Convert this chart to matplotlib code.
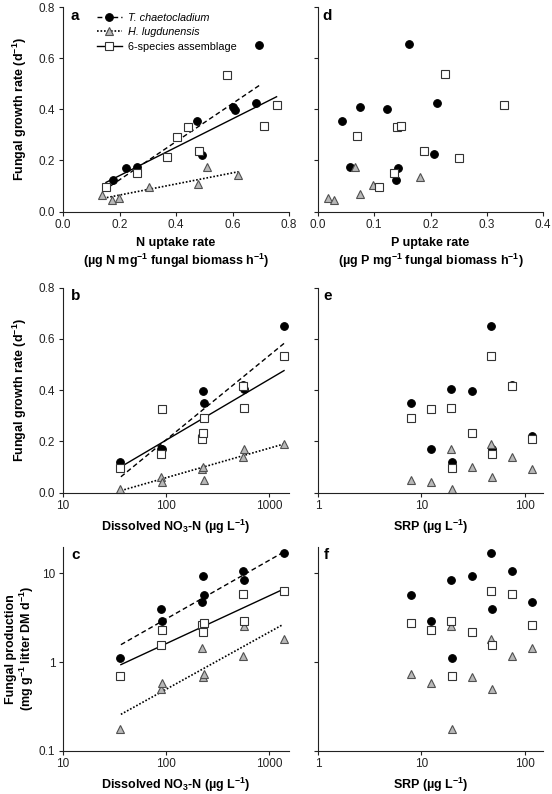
import matplotlib
matplotlib.use("Agg")
import matplotlib.pyplot as plt
import numpy as np
from matplotlib.legend_handler import HandlerLine2D
from matplotlib.lines import Line2D
from matplotlib.ticker import FixedLocator, FuncFormatter, NullLocator

plt.rcParams["font.family"] = ["Liberation Sans", "DejaVu Sans"]
plt.rcParams["mathtext.fontset"] = "custom"
plt.rcParams["mathtext.rm"] = "Liberation Sans:bold"
plt.rcParams["mathtext.it"] = "Liberation Sans:bold:italic"
plt.rcParams["mathtext.bf"] = "Liberation Sans:bold"
plt.rcParams["mathtext.default"] = "rm"

# --- panel a: N uptake rate vs growth rate
a_tc_x = [0.176, 0.223, 0.262, 0.473, 0.492, 0.601, 0.608, 0.683, 0.695]
a_tc_y = [0.123, 0.172, 0.175, 0.354, 0.223, 0.409, 0.399, 0.424, 0.654]
a_hl_x = [0.137, 0.172, 0.199, 0.304, 0.477, 0.511, 0.621]
a_hl_y = [0.065, 0.045, 0.052, 0.097, 0.107, 0.176, 0.143]
a_as_x = [0.152, 0.261, 0.369, 0.405, 0.442, 0.482, 0.580, 0.711, 0.756]
a_as_y = [0.097, 0.150, 0.212, 0.293, 0.330, 0.237, 0.535, 0.335, 0.418]
# regression lines (end points)
a_tc_fit_x = [0.169, 0.697]
a_tc_fit_y = [0.101, 0.496]
a_hl_fit_x = [0.143, 0.621]
a_hl_fit_y = [0.052, 0.156]
a_as_fit_x = [0.152, 0.756]
a_as_fit_y = [0.114, 0.450]

# --- panel d: P uptake rate vs growth rate
d_tc_x = [0.162, 0.212, 0.074, 0.123, 0.043, 0.206, 0.057, 0.142, 0.139]
d_tc_y = [0.656, 0.427, 0.411, 0.401, 0.355, 0.224, 0.173, 0.172, 0.124]
d_hl_x = [0.017, 0.028, 0.066, 0.075, 0.098, 0.182]
d_hl_y = [0.054, 0.045, 0.176, 0.067, 0.104, 0.136]
d_as_x = [0.225, 0.331, 0.141, 0.148, 0.070, 0.189, 0.251, 0.135, 0.108]
d_as_y = [0.538, 0.418, 0.330, 0.335, 0.296, 0.237, 0.211, 0.152, 0.097]

# --- panels b, c, e, f: nine streams
no3 = [36, 90, 91, 222, 227, 233, 552, 567, 1387]
srp = [19.6, 48.7, 12.4, 118, 30.8, 7.9, 74.8, 19.3, 46.6]
tc_growth = [0.121, 0.170, 0.172, 0.221, 0.396, 0.351, 0.420, 0.405, 0.650]
hl_growth = [0.013, 0.062, 0.043, 0.093, 0.101, 0.050, 0.140, 0.172, 0.190]
as_growth = [0.095, 0.150, 0.326, 0.208, 0.234, 0.291, 0.415, 0.332, 0.531]
tc_prod = [1.11, 4.0, 2.94, 4.72, 9.25, 5.71, 10.7, 8.45, 16.9]
hl_prod = [0.175, 0.50, 0.586, 1.45, 0.68, 0.74, 1.16, 2.58, 1.82]
as_prod = [0.69, 1.55, 2.29, 2.63, 2.21, 2.74, 5.87, 2.94, 6.35]

b_fit_x = [36.4, 1387]
b_tc_fit_y = [0.062, 0.582]
b_hl_fit_y = [0.008, 0.190]
b_as_fit_y = [0.101, 0.476]
c_fit_x = [36.4, 1387]
c_tc_fit_y = [1.57, 17.5]
c_hl_fit_x = [36.4, 1340]
c_hl_fit_y = [0.257, 2.63]
c_as_fit_y = [0.935, 6.68]

TC = dict(ls="none", marker="o", ms=5.5, mfc="black", mec="black", mew=0.8, clip_on=False)
HL = dict(ls="none", marker="^", ms=5.8, mfc="#b8b8b8", mec="#505050", mew=0.8, clip_on=False)
AS = dict(ls="none", marker="s", ms=5.8, mfc="white", mec="#333333", mew=0.8, clip_on=False)
DASH = dict(color="black", lw=1.0, ls=(0, (3.5, 2.2)))
DOT = dict(color="black", lw=1.2, ls=(0, (1, 1.1)))
SOLID = dict(color="black", lw=1.0, ls="-")

W, H = 552, 794
fig = plt.figure(figsize=(W / 100, H / 100), dpi=100)


def px_axes(left, top, right, bottom):
    return fig.add_axes([left / W, 1 - bottom / H, (right - left) / W, (bottom - top) / H])


def style(ax, letter, lx):
    for s in ("top", "right"):
        ax.spines[s].set_visible(False)
    for s in ("left", "bottom"):
        ax.spines[s].set_linewidth(0.8)
        ax.spines[s].set_color("#222222")
    ax.tick_params(direction="out", length=3, width=0.8, pad=2.5, labelsize=8.5,
                   color="#222222", labelcolor="#222222")
    ax.text(lx, 0.995, letter, transform=ax.transAxes, fontsize=11, fontweight="bold",
            va="top", ha="left")


def log_fmt(ax, axis, ticks):
    a = ax.xaxis if axis == "x" else ax.yaxis
    a.set_major_locator(FixedLocator(ticks))
    a.set_minor_locator(NullLocator())
    a.set_major_formatter(FuncFormatter(lambda v, p: f"{v:g}"))


def scatter3(ax, x_tc, y_tc, x_hl, y_hl, x_as, y_as):
    ax.plot(x_tc, y_tc, **TC)
    ax.plot(x_hl, y_hl, **HL)
    ax.plot(x_as, y_as, **AS)


LAB = dict(fontsize=9, fontweight="bold")
growth_label = "Fungal growth rate (d$^{-1}$)"
no3_label = "Dissolved NO$_3$-N (µg L$^{-1}$)"
srp_label = "SRP (µg L$^{-1}$)"

# panel a
ax = px_axes(63, 7.5, 289, 211.5)
ax.plot(a_tc_fit_x, a_tc_fit_y, **DASH)
ax.plot(a_hl_fit_x, a_hl_fit_y, **DOT)
ax.plot(a_as_fit_x, a_as_fit_y, **SOLID)
scatter3(ax, a_tc_x, a_tc_y, a_hl_x, a_hl_y, a_as_x, a_as_y)
ax.set_xlim(0, 0.8)
ax.set_ylim(0, 0.8)
ax.set_xticks([0.0, 0.2, 0.4, 0.6, 0.8])
ax.set_yticks([0.0, 0.2, 0.4, 0.6, 0.8])
ax.xaxis.set_major_formatter(FuncFormatter(lambda v, p: f"{v:.1f}"))
ax.yaxis.set_major_formatter(FuncFormatter(lambda v, p: f"{v:.1f}"))
ax.set_xlabel("N uptake rate\n(µg N mg$^{-1}$ fungal biomass h$^{-1}$)", labelpad=4,
              linespacing=1.25, **LAB)
ax.set_ylabel(growth_label, labelpad=7, **LAB)
style(ax, "a", 0.035)


class EndMarker(HandlerLine2D):
    def get_xdata(self, legend, xdescent, ydescent, width, height, fontsize):
        xdata = np.array([-xdescent, -xdescent + width])
        return xdata, np.array([-xdescent + width])


def proxy(line_style, marker_style):
    ms = {k: v for k, v in marker_style.items() if k not in ("ls", "clip_on")}
    return Line2D([], [], **line_style, **ms)


handles = [proxy(DASH, TC), proxy(DOT, HL), proxy(SOLID, AS)]
leg = ax.legend(handles, ["T. chaetocladium", "H. lugdunensis", "6-species assemblage"],
                loc="upper left", bbox_to_anchor=(0.13, 0.995), frameon=False,
                fontsize=7.8, handlelength=2.3, handletextpad=0.6, labelspacing=0.4,
                borderaxespad=0, handler_map={Line2D: EndMarker()})
for t in leg.get_texts()[:2]:
    t.set_fontstyle("italic")

# panel d
ax = px_axes(318, 7.5, 543, 211.5)
scatter3(ax, d_tc_x, d_tc_y, d_hl_x, d_hl_y, d_as_x, d_as_y)
ax.set_xlim(0, 0.4)
ax.set_ylim(0, 0.8)
ax.set_xticks([0.0, 0.1, 0.2, 0.3, 0.4])
ax.set_yticks([0.0, 0.2, 0.4, 0.6, 0.8])
ax.xaxis.set_major_formatter(FuncFormatter(lambda v, p: f"{v:.1f}"))
ax.set_yticklabels([])
ax.set_xlabel("P uptake rate\n(µg P mg$^{-1}$ fungal biomass h$^{-1}$)", labelpad=4,
              linespacing=1.25, **LAB)
style(ax, "d", 0.02)

# panel b
ax = px_axes(63, 287.5, 289, 492.7)
ax.set_xscale("log")
ax.plot(b_fit_x, b_tc_fit_y, **DASH)
ax.plot(b_fit_x, b_hl_fit_y, **DOT)
ax.plot(b_fit_x, b_as_fit_y, **SOLID)
scatter3(ax, no3, tc_growth, no3, hl_growth, no3, as_growth)
ax.set_xlim(10, 1550)
ax.set_ylim(0, 0.8)
log_fmt(ax, "x", [10, 100, 1000])
ax.set_yticks([0.0, 0.2, 0.4, 0.6, 0.8])
ax.yaxis.set_major_formatter(FuncFormatter(lambda v, p: f"{v:.1f}"))
ax.set_xlabel(no3_label, labelpad=4, **LAB)
ax.set_ylabel(growth_label, labelpad=7, **LAB)
style(ax, "b", 0.035)

# panel e
ax = px_axes(318, 287.5, 543, 492.7)
ax.set_xscale("log")
scatter3(ax, srp, tc_growth, srp, hl_growth, srp, as_growth)
ax.set_xlim(1, 150)
ax.set_ylim(0, 0.8)
log_fmt(ax, "x", [1, 10, 100])
ax.set_yticks([0.0, 0.2, 0.4, 0.6, 0.8])
ax.set_yticklabels([])
ax.set_xlabel(srp_label, labelpad=4, **LAB)
style(ax, "e", 0.025)

# panel c
ax = px_axes(63, 546.7, 289, 750.7)
ax.set_xscale("log")
ax.set_yscale("log")
ax.plot(c_fit_x, c_tc_fit_y, **DASH)
ax.plot(c_hl_fit_x, c_hl_fit_y, **DOT)
ax.plot(c_fit_x, c_as_fit_y, **SOLID)
scatter3(ax, no3, tc_prod, no3, hl_prod, no3, as_prod)
ax.set_xlim(10, 1550)
ax.set_ylim(0.1, 20)
log_fmt(ax, "x", [10, 100, 1000])
log_fmt(ax, "y", [0.1, 1, 10])
ax.set_xlabel(no3_label, labelpad=4, **LAB)
ax.set_ylabel("Fungal production\n(mg g$^{-1}$ litter DM d$^{-1}$)", labelpad=2,
              linespacing=1.1, **LAB)
style(ax, "c", 0.035)

# panel f
ax = px_axes(318, 546.7, 543, 750.7)
ax.set_xscale("log")
ax.set_yscale("log")
scatter3(ax, srp, tc_prod, srp, hl_prod, srp, as_prod)
ax.set_xlim(1, 150)
ax.set_ylim(0.1, 20)
log_fmt(ax, "x", [1, 10, 100])
log_fmt(ax, "y", [0.1, 1, 10])
ax.set_yticklabels([])
ax.set_xlabel(srp_label, labelpad=4, **LAB)
style(ax, "f", 0.025)

fig.savefig("out.png", dpi=100)
